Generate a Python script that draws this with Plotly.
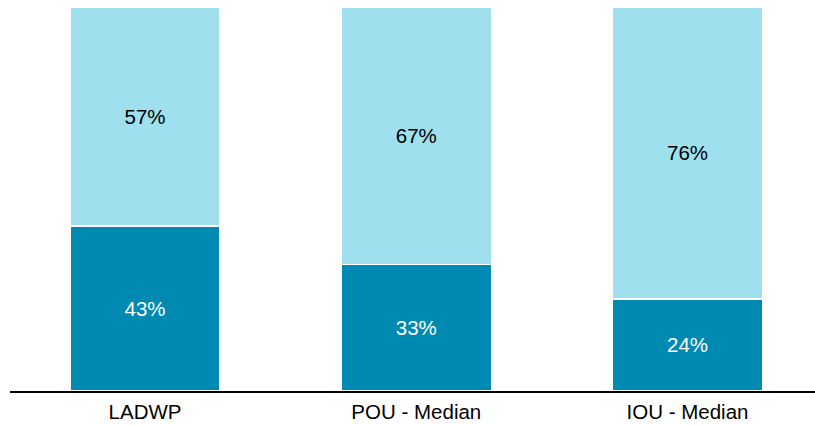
import plotly.graph_objects as go

categories = ["LADWP", "POU - Median", "IOU - Median"]
bottom_vals = [43, 33, 24]
top_vals = [57, 67, 76]

dark = "#0089B1"
light = "#9EE0ED"
font_family = "Liberation Sans, Arial, sans-serif"
fs = 20.5

fig = go.Figure()
fig.add_trace(go.Bar(
    x=categories, y=bottom_vals,
    marker=dict(color=dark, line=dict(color="white", width=1.5)),
    text=[f"{v}%" for v in bottom_vals], textposition="inside",
    insidetextanchor="middle",
    textfont=dict(color="white", size=fs, family=font_family),
    width=0.553, hoverinfo="skip",
))
fig.add_trace(go.Bar(
    x=categories, y=top_vals,
    marker=dict(color=light, line=dict(color="white", width=1.5)),
    text=[f"{v}%" for v in top_vals], textposition="inside",
    insidetextanchor="middle",
    textfont=dict(color="black", size=fs, family=font_family),
    width=0.553, hoverinfo="skip",
))

fig.update_layout(
    barmode="stack",
    width=815, height=425,
    margin=dict(l=10, r=0, t=7, b=34),
    paper_bgcolor="white", plot_bgcolor="white",
    showlegend=False,
    font=dict(family=font_family, size=fs, color="black"),
    uniformtext=dict(mode="show", minsize=fs),
)
fig.update_xaxes(
    range=[-0.498, 2.47],
    showline=True, linecolor="black", linewidth=1.5,
    showgrid=False, ticks="", ticklabelstandoff=2,
    tickfont=dict(size=fs, color="black"),
)
fig.update_yaxes(
    range=[0, 100], visible=False, showgrid=False,
)

fig.write_html("out.html")
